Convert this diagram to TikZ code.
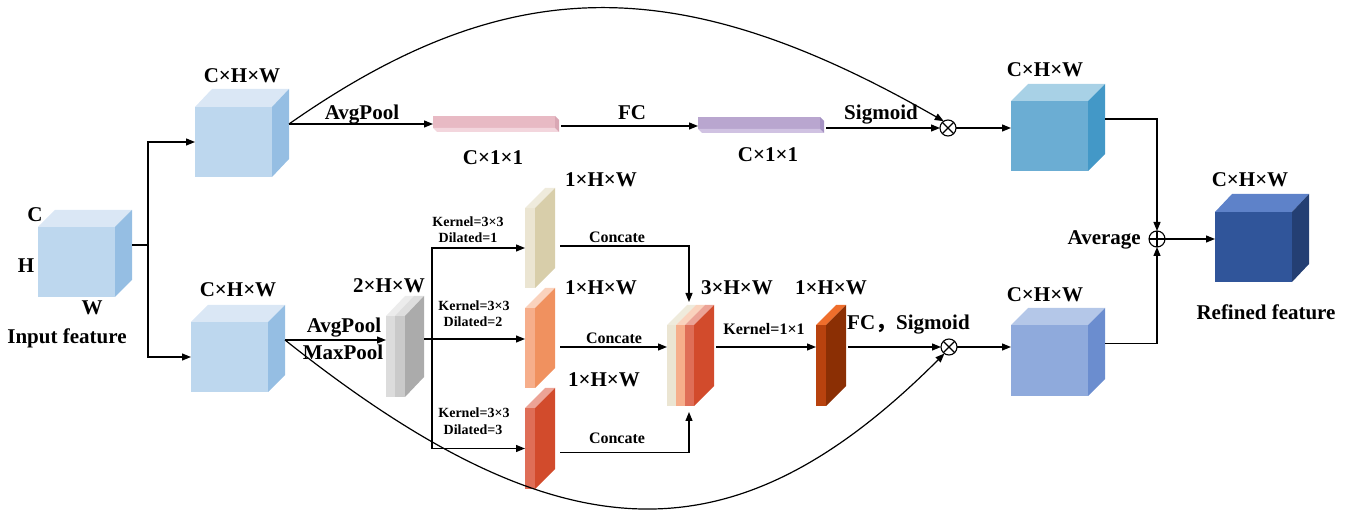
\documentclass[tikz,border=0pt]{standalone}
\usepackage{fontspec}
\setmainfont{Liberation Serif}
\newfontfamily\cjkfont{Noto Sans CJK SC}
\usetikzlibrary{arrows.meta,calc}

% face colours
\definecolor{cubeF}{HTML}{BDD7EE}\definecolor{cubeT}{HTML}{DAE7F5}\definecolor{cubeS}{HTML}{95BEE3}
\definecolor{topF}{HTML}{6BADD3}\definecolor{topT}{HTML}{A8D1E6}\definecolor{topS}{HTML}{4398C7}
\definecolor{botF}{HTML}{8FAADC}\definecolor{botT}{HTML}{B4C7E8}\definecolor{botS}{HTML}{6B8DCF}
\definecolor{refF}{HTML}{30559A}\definecolor{refT}{HTML}{5E82C9}\definecolor{refS}{HTML}{243F73}
\definecolor{pinkF}{HTML}{E8BAC4}\definecolor{pinkB}{HTML}{F3D6DD}\definecolor{pinkS}{HTML}{D9A7B4}
\definecolor{purF}{HTML}{B9A6CF}\definecolor{purB}{HTML}{D0C2E2}\definecolor{purS}{HTML}{A592C3}
\definecolor{grAF}{HTML}{DCDCDC}\definecolor{grAT}{HTML}{ECECEC}
\definecolor{grBF}{HTML}{CACACA}\definecolor{grBT}{HTML}{DEDEDE}\definecolor{grS}{HTML}{ABABAB}
\definecolor{beF}{HTML}{EBE5D2}\definecolor{beT}{HTML}{EFEBDC}\definecolor{beS}{HTML}{D8CEAA}
\definecolor{orF}{HTML}{F6AE8B}\definecolor{orT}{HTML}{FAD2BD}\definecolor{orS}{HTML}{F0915F}
\definecolor{rdF}{HTML}{DF6E57}\definecolor{rdT}{HTML}{ECA396}\definecolor{rdS}{HTML}{D24B2C}
\definecolor{brF}{HTML}{B8420E}\definecolor{brT}{HTML}{EF6E2C}\definecolor{brS}{HTML}{8B2F04}

\tikzset{
  conn/.style={line width=1.2pt, black},
  arr/.style={conn, -{Triangle[length=9pt,width=7pt]}},
  face/.style={rectangle, inner sep=0pt, outer sep=0pt, draw=none},
  big/.style={font=\fontsize{21}{24}\selectfont\bfseries, inner sep=0pt},
  mid/.style={font=\fontsize{16}{18}\selectfont\bfseries, inner sep=0pt},
  small/.style={font=\fontsize{14}{16}\selectfont\bfseries, inner sep=0pt},
  opnode/.style={circle, draw, line width=1.1pt, minimum size=16pt, inner sep=0pt, outer sep=0pt, fill=white},
  otimesnode/.style={opnode, path picture={\draw[line width=1.1pt]
      (path picture bounding box.north west) -- (path picture bounding box.south east)
      (path picture bounding box.north east) -- (path picture bounding box.south west);}},
  oplusnode/.style={opnode, path picture={\draw[line width=1.1pt]
      (path picture bounding box.north) -- (path picture bounding box.south)
      (path picture bounding box.west) -- (path picture bounding box.east);}},
}

% solid box: name, x, y (top-left of front face), width, height, depth vector, front, top, side
\newcommand\solidbox[9]{%
  \node[face, fill=#7, minimum width=#4pt, minimum height=#5pt, anchor=north west] (#1) at (#2,#3) {};
  \fill[#8] (#1.north west) -- ++#6 -- ($(#1.north east)+#6$) -- (#1.north east) -- cycle;
  \fill[#9] (#1.north east) -- ++#6 -- ($(#1.south east)+#6$) -- (#1.south east) -- cycle;
  \coordinate (#1-out) at ($(#1.east)+#6$);
}
% flat vector bar seen from below: name, x, y, width, height, front, bottom, side
\newcommand\flatbar[8]{%
  \node[face, fill=#6, minimum width=#4pt, minimum height=#5pt, anchor=north west] (#1) at (#2,#3) {};
  \fill[#7] (#1.south west) -- ++(4,4) -- ($(#1.south east)+(4,4)$) -- (#1.south east) -- cycle;
  \fill[#8] (#1.north east) -- ++(4,4) -- ($(#1.south east)+(4,4)$) -- (#1.south east) -- cycle;
}

\begin{document}
\begin{tikzpicture}[x=1pt,y=-1pt]
\useasboundingbox (0,0) rectangle (1353,518);

% ---------- feature maps ----------
\solidbox{in}{38}{227}{77}{70}{(17,-17)}{cubeF}{cubeT}{cubeS}
\solidbox{c1}{195}{107}{77}{70}{(17,-18)}{cubeF}{cubeT}{cubeS}
\solidbox{c2}{191}{322}{77}{70}{(17,-17)}{cubeF}{cubeT}{cubeS}
\solidbox{c3}{1011}{101}{77}{70}{(17,-17)}{topF}{topT}{topS}
\solidbox{c4}{1011}{325}{77}{71}{(17,-17)}{botF}{botT}{botS}
\solidbox{c5}{1215}{212}{77}{70}{(17,-18)}{refF}{refT}{refS}

\flatbar{p1}{433}{116}{122}{12}{pinkF}{pinkB}{pinkS}
\flatbar{p2}{698}{117}{122}{12}{purF}{purB}{purS}

\solidbox{gA}{386}{316}{9}{81}{(19,-20)}{grAF}{grAT}{grAT}
\solidbox{gB}{395}{316}{10}{81}{(19,-20)}{grBF}{grBT}{grS}

\solidbox{s1}{525}{208}{10}{80}{(20,-20)}{beF}{beT}{beS}
\solidbox{s2}{525}{308}{10}{80}{(20,-20)}{orF}{orT}{orS}
\solidbox{s3}{525}{408}{10}{81}{(20,-20)}{rdF}{rdT}{rdS}

\solidbox{stA}{667}{325}{9}{81}{(20,-20)}{beF}{beT}{beT}
\solidbox{stB}{676}{325}{9}{81}{(20,-20)}{orF}{orT}{orT}
\solidbox{stC}{685}{325}{9}{81}{(20,-20)}{rdF}{rdT}{rdS}

\solidbox{o1}{816}{325}{10}{81}{(20,-20)}{brF}{brT}{brS}

% ---------- operators ----------
\node[otimesnode] (m1) at (948,128) {};
\node[otimesnode] (m3) at (949,347) {};
\node[oplusnode]  (m2) at (1157,239) {};

% ---------- connectors ----------
\coordinate (br) at (148,245);
\draw[conn] (in-out) -- (br);
\draw[arr] (br) |- (c1.west);
\draw[arr] (br) |- (c2.west);

% channel branch
\draw[arr] (c1-out) -- (c1-out -| p1.west);
\coordinate (p1o) at ($(p1.east)+(6,4)$);
\draw[arr] (p1o) -- (p1o -| p2.west);
\coordinate (p2o) at ($(p2.east)+(6,5)$);
\draw[arr] (p2o) -- (m1.west);
\draw[arr] (c1-out) .. controls (509,-30) and (680,-30) .. (m1.122);
\draw[arr] (m1.east) -- (m1.east -| c3.west);

% spatial branch
\draw[arr] (c2-out) -- (c2-out -| gA.west);
\coordinate (gbr) at (432,339);
\draw[conn] (gB-out |- gbr) -- (gbr);
\draw[arr] (gbr) |- (s1.west);
\draw[arr] (gbr) -- (gbr -| s2.west);
\draw[arr] (gbr) |- (s3.west);

\coordinate (s1o) at ($(s1.east)+(25,-2)$);
\coordinate (s2o) at ($(s2.east)+(25,-1)$);
\coordinate (s3o) at ($(s3.east)+(25,4)$);
\coordinate (sttop) at ($(stB.north east)+(4,-23)$);
\coordinate (stbot) at ($(stB.south east)+(4,6)$);
\draw[arr] (s1o) -| (sttop);
\draw[arr] (s2o) -- (s2o -| stA.west);
\draw[arr] (s3o) -| (stbot);

\coordinate (sto) at ($(stC-out)+(2,1.5)$);
\draw[arr] (sto) -- (sto -| o1.west);
\coordinate (o1o) at ($(o1-out)+(2,1.5)$);
\draw[arr] (o1o) -- (m3.west);
\draw[arr] (c2-out) .. controls (564,562) and (736,562) .. (m3.235);
\draw[arr] (m3.east) -- (m3.east -| c4.west);

% fusion
\draw[arr] (c3-out) -| (m2.north);
\draw[arr] (c4-out) -| (m2.south);
\draw[arr] (m2.east) -- (m2.east -| c5.west);

% ---------- labels ----------
\node[big, anchor=base] (lC)  at (35,222) {C};
\node[big, anchor=base] (lH)  at (26,273) {H};
\node[big, anchor=base] (lW)  at (92,315) {W};
\node[big, anchor=base] (lin) at (67,344) {Input feature};
\node[big, anchor=base] (l1)  at (242,83) {C×H×W};
\node[big, anchor=base] (l2)  at (238,297) {C×H×W};
\node[big, anchor=base] (l3)  at (1045,77) {C×H×W};
\node[big, anchor=base] (l4)  at (1045,302) {C×H×W};
\node[big, anchor=base] (l5)  at (1250,187) {C×H×W};
\node[big, anchor=base] (lref) at (1266,320) {Refined feature};
\node[big, anchor=base east] (lavg) at (1141,245) {Average};

\node[big, anchor=base] (lap1) at (362,120) {AvgPool};
\node[big, anchor=base] (lfc)  at (632,120) {FC};
\node[big, anchor=base] (lsg)  at (881,120) {Sigmoid};
\node[big, anchor=base] (lv1)  at (493,165) {C×1×1};
\node[big, anchor=base] (lv2)  at (768,162) {C×1×1};

\node[big, anchor=base] (l2hw) at (389,293) {2×H×W};
\node[big, anchor=base] (lap2) at (344,333) {AvgPool};
\node[big, anchor=base] (lmp)  at (343,360) {MaxPool};

\node[small, anchor=base] (k1) at (468,227) {Kernel=3×3};
\node[small, anchor=base] (d1) at (468,243) {Dilated=1};
\node[small, anchor=base] (k2) at (474,311) {Kernel=3×3};
\node[small, anchor=base] (d2) at (473,327) {Dilated=2};
\node[small, anchor=base] (k3) at (474,418) {Kernel=3×3};
\node[small, anchor=base] (d3) at (473,435) {Dilated=3};

\node[big, anchor=base] (ls1) at (601,187) {1×H×W};
\node[big, anchor=base] (ls2) at (601,295) {1×H×W};
\node[big, anchor=base] (ls3) at (604,387) {1×H×W};

\node[mid, anchor=base] (cc1) at (617,243) {Concate};
\node[mid, anchor=base] (cc2) at (614,344) {Concate};
\node[mid, anchor=base] (cc3) at (617,444) {Concate};

\node[big, anchor=base] (l3hw) at (737,295) {3×H×W};
\node[mid, anchor=base] (lk11) at (764,335) {Kernel=1×1};
\node[big, anchor=base] (lo1)  at (831,295) {1×H×W};
\node[big, anchor=base west] (lfcs) at (847,330) {FC{\cjkfont ，}Sigmoid};
\end{tikzpicture}
\end{document}
